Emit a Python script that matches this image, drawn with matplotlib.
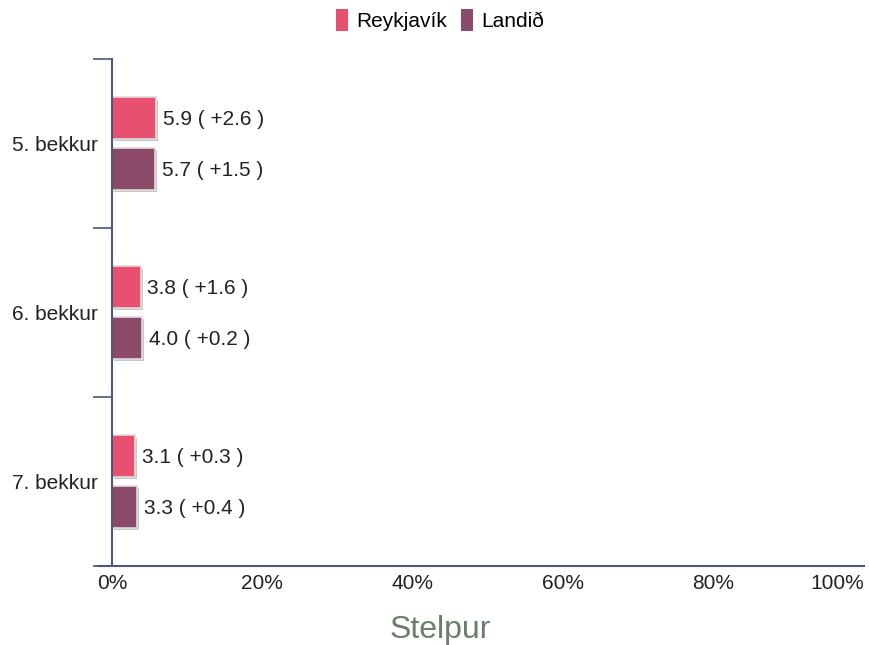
import numpy as np
import matplotlib.pyplot as plt
import matplotlib.patheffects as pe
from matplotlib.patches import Patch

plt.rcParams['font.family'] = ['Liberation Sans', 'DejaVu Sans']

# data
grades = ['5. bekkur', '6. bekkur', '7. bekkur']
reykjavik = [5.9, 3.8, 3.1]
reykjavik_diff = ['+2.6', '+1.6', '+0.3']
landid = [5.7, 4.0, 3.3]
landid_diff = ['+1.5', '+0.2', '+0.4']
series_names = ['Reykjavík', 'Landið']
colors = ['#e8506f', '#8c4a69']
axis_col = '#4b5878'

fig = plt.figure(figsize=(8.69, 6.45), dpi=100)
ax = fig.add_axes([112/869, 1-566/645, 752/869, 507/645])

y = np.arange(len(grades))
off = 0.15
h = 0.245
shadow = [pe.SimplePatchShadow(offset=(1.5, -1.5), shadow_rgbFace='#bbbbbb', alpha=0.8), pe.Normal()]

b1 = ax.barh(y - off, reykjavik, height=h, color=colors[0], edgecolor='#dddddd', linewidth=1.2)
b2 = ax.barh(y + off, landid, height=h, color=colors[1], edgecolor='#dddddd', linewidth=1.2)
for b in list(b1) + list(b2):
    b.set_path_effects(shadow)

for i in range(len(grades)):
    ax.text(reykjavik[i] + 0.9, y[i] - off + 0.01, '%.1f ( %s )' % (reykjavik[i], reykjavik_diff[i]),
            va='center', ha='left', fontsize=15, color='#222222')
    ax.text(landid[i] + 0.9, y[i] + off + 0.01, '%.1f ( %s )' % (landid[i], landid_diff[i]),
            va='center', ha='left', fontsize=15, color='#222222')

ax.set_xlim(0, 100)
ax.set_ylim(2.5, -0.5)
ax.set_xticks([0, 20, 40, 60, 80, 100])
ax.set_xticklabels(['0%', '20%', '40%', '60%', '80%', '100%'], fontsize=15, color='#222222')
ax.get_xticklabels()[-1].set_ha('right')
ax.tick_params(axis='x', length=0, pad=6)
ax.set_yticks(y)
ax.set_yticklabels(grades, fontsize=15, color='#222222')
ax.tick_params(axis='y', which='major', length=0, pad=10)
ax.set_yticks([-0.5, 0.5, 1.5, 2.5], minor=True)
ax.tick_params(axis='y', which='minor', length=14, width=1.2, color=axis_col)

for s in ['top', 'right']:
    ax.spines[s].set_visible(False)
for s in ['left', 'bottom']:
    ax.spines[s].set_color(axis_col)
    ax.spines[s].set_linewidth(1.5)
ax.spines['bottom'].set_bounds(-1.9, 100)
ax.spines['bottom'].set_clip_on(False)

fig.text(440/869, 1-630/645, 'Stelpur', ha='center', va='center', fontsize=23, color='#6b7d6b')

handles = [Patch(facecolor=c, edgecolor='none') for c in colors]
fig.legend(handles, series_names, loc='center', bbox_to_anchor=(440/869, 1-20/645), ncol=2,
           frameon=False, fontsize=15, handlelength=0.55, handleheight=1.2, handletextpad=0.4,
           columnspacing=0.7)

fig.savefig('out.png', dpi=100)
